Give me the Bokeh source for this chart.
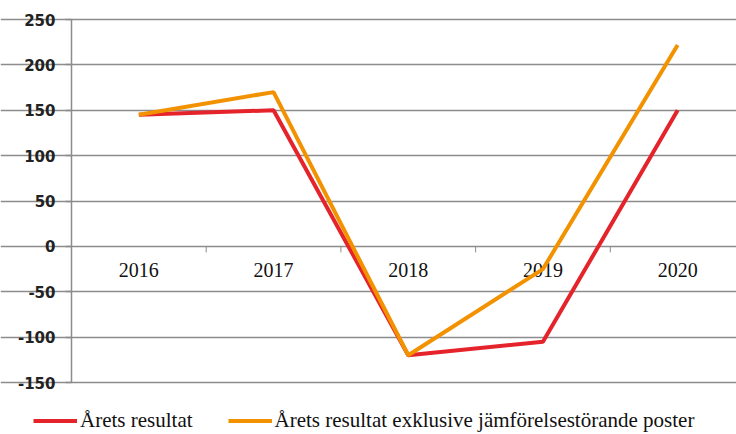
from bokeh.plotting import figure
from bokeh.models import (Range1d, FixedTicker, Legend, LegendItem, ColumnDataSource)
from bokeh.core.properties import value
from bokeh.embed import file_html
from bokeh.resources import INLINE

years = ["2016", "2017", "2018", "2019", "2020"]
arets_resultat = [145, 150, -120, -105, 150]
exkl_jamforelsestorande = [145, 170, -120, -25, 222]
y_ticks = [-150, -100, -50, 0, 50, 100, 150, 200, 250]

xpos = [i + 0.5 for i in range(len(years))]
boundaries = [i for i in range(1, len(years))]

# pixel geometry of the plotting area
W, H = 736, 434
axis_px, top_px, bottom_px = 71, 19, 382
px_per_cat = 134.7
px_per_unit_y = (bottom_px - top_px) / (y_ticks[-1] - y_ticks[0])
x_start = -axis_px / px_per_cat
x_end = (W - axis_px) / px_per_cat
y_top = y_ticks[-1] + top_px / px_per_unit_y
y_bottom = y_ticks[0] - (H - bottom_px) / px_per_unit_y

src = ColumnDataSource(dict(x=xpos, r=arets_resultat, o=exkl_jamforelsestorande, year=years,
                            zero=[0] * len(years)))
tick_len = 6 / px_per_unit_y
tick_src = ColumnDataSource(dict(x=boundaries, y0=[0] * len(boundaries), y1=[-tick_len] * len(boundaries)))

p = figure(width=W, height=H, output_backend="svg", toolbar_location=None,
           x_range=Range1d(x_start, x_end), y_range=Range1d(y_bottom, y_top),
           min_border_left=0, min_border_top=0, min_border_bottom=0, min_border_right=0)
p.outline_line_color = None
p.background_fill_color = "white"
p.border_fill_color = "white"

# y axis drawn inside the frame at x = 0
p.yaxis.fixed_location = 0
p.yaxis.bounds = (y_ticks[0], y_ticks[-1])
p.yaxis.ticker = FixedTicker(ticks=y_ticks)
p.yaxis.major_label_overrides = {t: str(t) for t in y_ticks}
p.yaxis.axis_line_color = "#8c8c8c"
p.yaxis.axis_line_width = 1.5
p.yaxis.major_tick_line_color = "#8c8c8c"
p.yaxis.major_tick_line_width = 1.5
p.yaxis.major_tick_out = 6
p.yaxis.major_tick_in = 0
p.yaxis.minor_tick_line_color = None
p.yaxis.major_label_text_font = "DejaVu Sans"
p.yaxis.major_label_text_font_style = "bold"
p.yaxis.major_label_text_font_size = "15px"
p.yaxis.major_label_text_color = "#222222"
p.yaxis.major_label_standoff = 10

p.xaxis.visible = False
p.xgrid.visible = False
p.ygrid.ticker = FixedTicker(ticks=y_ticks)
p.ygrid.bounds = (0, x_end)
p.ygrid.grid_line_color = "#8c8c8c"
p.ygrid.grid_line_width = 1.5

# category boundary ticks on the zero line
p.segment(x0="x", y0="y0", x1="x", y1="y1", source=tick_src, line_color="#8c8c8c", line_width=1)

# category labels just below the zero line
p.text(x="x", y="zero", text="year", source=src, text_align="center", text_baseline="middle",
       y_offset=24, text_font=value("Liberation Serif"), text_font_size="20px", text_color="#111111")

r1 = p.line("x", "r", source=src, line_color="#e5232b", line_width=4)
r2 = p.line("x", "o", source=src, line_color="#f39200", line_width=4)

legend = Legend(items=[LegendItem(label="Årets resultat", renderers=[r1]),
                       LegendItem(label="Årets resultat exklusive jämförelsestörande poster", renderers=[r2])],
                orientation="horizontal", location=(33, 1),
                padding=0, margin=0, spacing=35, label_standoff=3,
                glyph_width=44, glyph_height=21, label_height=21,
                label_text_font="Liberation Serif", label_text_font_size="21px",
                label_text_color="#111111", border_line_color=None,
                background_fill_alpha=0)
p.add_layout(legend, "center")

open("out.html", "w").write(file_html(p, INLINE))
